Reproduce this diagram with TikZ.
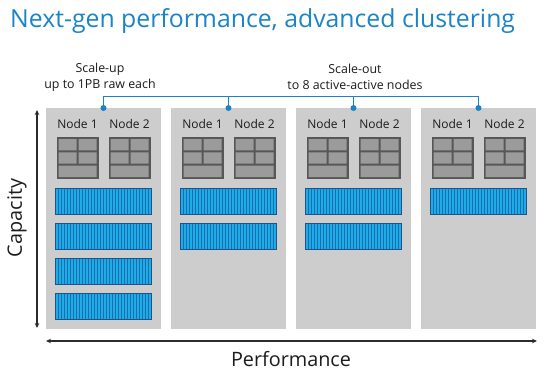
\documentclass[tikz,border=0pt]{standalone}
\usepackage{fontspec}
\setmainfont{Open Sans}
\usetikzlibrary{arrows.meta}
\definecolor{dellblue}{HTML}{1A84C7}
\definecolor{panelgray}{HTML}{CDCDCD}
\definecolor{srvdark}{HTML}{575757}
\definecolor{srvlight}{HTML}{9B9B9B}
\definecolor{barfill}{HTML}{1FAAE8}
\definecolor{barline}{HTML}{1570B0}
\definecolor{baredge}{HTML}{1F5289}
\definecolor{axisgray}{HTML}{2B2B2B}
\definecolor{txt}{HTML}{1C1C1C}
\tikzset{
  srv/.pic={
    \fill[srvdark] (0,0) rectangle (42,42);
    \fill[srvlight] (2,2) rectangle (20,13.3) (22,2) rectangle (40,13.3)
      (2,15.3) rectangle (20,26.7) (22,15.3) rectangle (40,26.7)
      (2,28.7) rectangle (40,40);
  },
  bar/.pic={
    \fill[barfill] (0,0) rectangle (96,26);
    \foreach \k in {1,...,31} \draw[barline, line width=0.7pt] (3*\k,0) -- (3*\k,26);
    \draw[baredge, line width=1pt] (0,0) rectangle (96,26);
  }
}
\begin{document}
\begin{tikzpicture}[x=1pt,y=-1pt,
  panel/.style={fill=panelgray, draw=none, minimum width=115pt, minimum height=221pt, inner sep=0pt, outer sep=0pt},
  nodelbl/.style={font=\fontsize{12}{13}\selectfont, text=txt, inner sep=0pt},
  lbl/.style={font=\fontsize{12.4}{16}\selectfont, text=txt, inner sep=0pt, align=center},
  conn/.style={draw=dellblue, line width=1.4pt},
  dot/.style={circle, fill=dellblue, inner sep=0pt, minimum size=6pt},
  axis/.style={draw=axisgray, line width=1.2pt, {Stealth[length=5pt,width=4.5pt]}-{Stealth[length=5pt,width=4.5pt]}},
  axlbl/.style={font=\fontsize{19.8}{22}\selectfont, text=txt, inner sep=0pt}
]
\useasboundingbox (0,0) rectangle (550,384);
\fill[white] (0,0) rectangle (550,384);

\node[anchor=base west, inner sep=0pt, text=dellblue, font=\fontsize{24.8}{28}\selectfont] (title) at (10,27) {Next-gen performance, advanced clustering};

\foreach \i/\n in {1/4,2/2,3/2,4/1} {
  \pgfmathsetmacro\cx{103.5+125*(\i-1)}
  \node[panel] (p\i) at (\cx,218.5) {};
  \coordinate (t\i) at (\cx,96.5);
  \node[nodelbl] (n\i a) at (\cx-26,124) {Node 1};
  \node[nodelbl] (n\i b) at (\cx+26,124) {Node 2};
  \pic at (\cx-47,137) {srv};
  \pic at (\cx+5,137) {srv};
  \foreach \j in {1,...,\n} {
    \pic at (\cx-48,{188+35*(\j-1)}) {bar};
  }
}

\draw[conn] (p1.north) -- (t1) -- (t4) -- (p4.north);
\draw[conn] (p2.north) -- (t2);
\draw[conn] (p3.north) -- (t3);
\foreach \i in {1,...,4} \node[dot] (d\i) at (p\i.north) {};

\node[lbl] (su) at (100,77) {Scale-up\\up to 1PB raw each};
\node[lbl] (so) at (355,77) {Scale-out\\to 8 active-active nodes};

\coordinate (ct) at (37,110);
\coordinate (cb) at (37,328);
\draw[axis] (ct) -- (cb);
\coordinate (pl) at (46,341);
\coordinate (pr) at (537,341);
\draw[axis] (pl) -- (pr);

\node[axlbl] (perf) at (291,359) {Performance};
\node[axlbl, rotate=90] (cap) at (17,218) {Capacity};
\end{tikzpicture}
\end{document}
